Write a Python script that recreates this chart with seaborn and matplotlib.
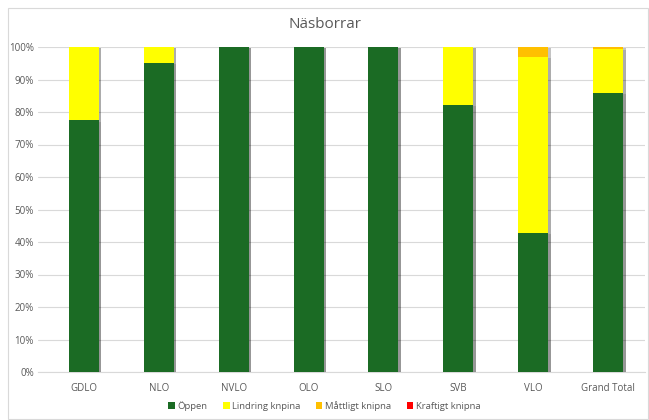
import numpy as np
import pandas as pd
import matplotlib
matplotlib.use("Agg")
import matplotlib.pyplot as plt
import matplotlib.patheffects as pe
from matplotlib.patches import Patch, Rectangle
from matplotlib.ticker import PercentFormatter
import seaborn as sns

# ── data (percent of each area) ─────────────────────────────
categories = ["GDLO", "NLO", "NVLO", "OLO", "SLO", "SVB", "VLO", "Grand Total"]
oppen = [77.5, 95.2, 100, 100, 100, 82.3, 42.8, 85.9]
lindring = [22.5, 4.8, 0, 0, 0, 17.7, 54.2, 13.6]
mattligt = [0, 0, 0, 0, 0, 0, 3.0, 0.5]
kraftigt = [0, 0, 0, 0, 0, 0, 0, 0]

series = ["Öppen", "Lindring knpina", "Måttligt knipna", "Kraftigt knipna"]
colors = ["#1b6b24", "#ffff00", "#ffc000", "#ff0000"]

sns.set_theme(style="white")
plt.rcParams["font.family"] = ["Open Sans", "DejaVu Sans"]

df = pd.DataFrame({"cat": categories, "Öppen": oppen, "Lindring knpina": lindring,
                   "Måttligt knipna": mattligt, "Kraftigt knipna": kraftigt})
cum = df[series].cumsum(axis=1)

fig = plt.figure(figsize=(6.49, 4.20), dpi=100)
ax = fig.add_axes([38 / 649, 1 - 372 / 420, (645 - 38) / 649, (372 - 47) / 420])

shadow = [pe.SimplePatchShadow(offset=(2, -1), shadow_rgbFace="#000000", alpha=0.12),
          pe.Normal()]

# draw from the top segment down so each stacked piece stays visible
for name, col in reversed(list(zip(series, colors))):
    sns.barplot(x=df["cat"], y=cum[name], color=col, width=0.4, ax=ax,
                saturation=1, linewidth=0, zorder=3)

for bar in ax.patches:
    bar.set_path_effects(shadow)

ax.set_ylim(0, 100)
ax.set_xlim(-0.61, 7.49)
ax.set_yticks(np.arange(0, 101, 10))
ax.yaxis.set_major_formatter(PercentFormatter(decimals=0))
ax.grid(axis="y", color="#d9d9d9", linewidth=0.8, zorder=0)
ax.set_axisbelow(True)
for s in ["top", "right", "left"]:
    ax.spines[s].set_visible(False)
ax.spines["bottom"].set_color("#d9d9d9")
ax.spines["bottom"].set_linewidth(0.8)
ax.set_xlabel("")
ax.set_ylabel("")
ax.tick_params(axis="both", length=0, labelsize=7, labelcolor="#595959")
ax.tick_params(axis="x", pad=8)
ax.tick_params(axis="y", pad=3)

fig.text(0.5, 1 - 25 / 420, "Näsborrar", ha="center", va="center",
         fontsize=11, color="#595959")

handles = [Patch(facecolor=c, edgecolor="none") for c in colors]
fig.legend(handles, series, loc="center", bbox_to_anchor=(0.5, 1 - 406 / 420),
           ncol=4, frameon=False, fontsize=6.8, labelcolor="#595959",
           handlelength=0.7, handleheight=0.7, handletextpad=0.3, columnspacing=1.6)

# chart border
fig.patches.append(Rectangle((8 / 649, 0.002), 1 - 9 / 649, 1 - 8 / 420 - 0.002,
                             transform=fig.transFigure, fill=False,
                             edgecolor="#d9d9d9", linewidth=0.8))

fig.savefig("out.png", dpi=100)
